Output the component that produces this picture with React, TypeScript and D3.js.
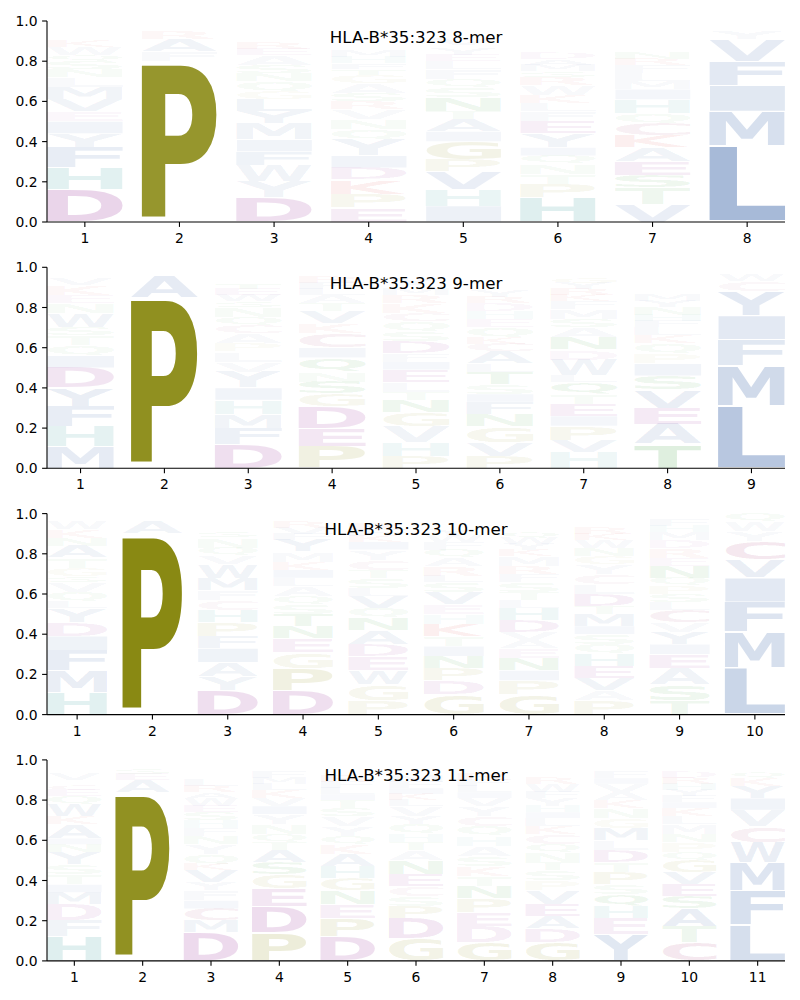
import React, { useMemo } from "react";
import * as d3 from "d3";

type Col = [string, number][];

const titles = [
  "HLA-B*35:323 8-mer",
  "HLA-B*35:323 9-mer",
  "HLA-B*35:323 10-mer",
  "HLA-B*35:323 11-mer",
];

const mer8: Col[] = [
  [["D",.16],["H",.11],["F",.10],["Y",.07],["I",.06],["E",.05],["V",.06],["M",.06],["L",.05],["N",.04],["S",.04],["Q",.03],["W",.04],["K",.03],["R",.02],["A",.02],["C",.02]],
  [["P",.80],["F",.05],["A",.06],["R",.04],["S",.02],["K",.01]],
  [["D",.12],["Y",.08],["W",.08],["F",.07],["I",.06],["M",.08],["Y",.06],["L",.06],["G",.04],["Q",.05],["N",.04],["S",.04],["A",.05],["E",.03],["R",.03],["K",.02],["T",.02]],
  [["E",.07],["P",.07],["K",.07],["D",.06],["I",.06],["Y",.08],["Q",.05],["N",.05],["V",.05],["R",.04],["S",.04],["A",.05],["G",.04],["T",.03],["F",.03],["H",.03],["M",.03],["W",.02]],
  [["I",.08],["H",.08],["V",.09],["P",.06],["G",.09],["I",.05],["A",.06],["T",.04],["N",.07],["S",.05],["Q",.04],["F",.05],["L",.04],["E",.03],["Y",.03],["K",.02],["V",.03]],
  [["H",.12],["P",.07],["T",.05],["N",.05],["Q",.04],["I",.04],["Y",.07],["E",.06],["F",.05],["L",.04],["K",.04],["W",.05],["R",.04],["S",.03],["M",.03],["A",.03],["D",.03],["C",.02]],
  [["V",.09],["T",.08],["S",.06],["E",.07],["A",.07],["K",.06],["C",.06],["Q",.05],["H",.07],["I",.05],["M",.04],["L",.04],["F",.04],["R",.03],["N",.03],["Y",.02],["W",.02]],
  [["L",.38],["M",.17],["I",.13],["F",.12],["V",.11],["Y",.04],["W",.02],["C",.02]],
];

const mer9: Col[] = [
  [["M",.11],["H",.10],["F",.10],["Y",.09],["D",.10],["I",.06],["Q",.05],["T",.05],["S",.04],["W",.07],["N",.05],["E",.04],["K",.05],["V",.03],["A",.02],["L",.02],["R",.02]],
  [["P",.85],["A",.11],["S",.02],["T",.01],["L",.01]],
  [["D",.12],["F",.08],["M",.07],["H",.07],["I",.06],["Y",.08],["V",.05],["L",.05],["P",.04],["A",.05],["C",.04],["Q",.04],["N",.05],["S",.03],["W",.03],["E",.03],["T",.03],["K",.02],["R",.02]],
  [["P",.11],["E",.09],["D",.11],["G",.06],["S",.06],["N",.05],["Q",.07],["I",.05],["C",.07],["K",.05],["V",.06],["T",.04],["A",.04],["L",.03],["F",.03],["R",.03],["M",.02],["W",.02]],
  [["P",.06],["H",.07],["V",.08],["G",.07],["N",.06],["T",.04],["L",.05],["E",.06],["I",.04],["F",.04],["D",.06],["S",.05],["Q",.05],["C",.04],["K",.05],["R",.04],["M",.03],["W",.02],["Y",.03]],
  [["P",.06],["V",.07],["G",.08],["N",.06],["F",.06],["I",.04],["S",.05],["T",.06],["L",.04],["A",.06],["C",.04],["K",.03],["Q",.05],["E",.04],["H",.04],["D",.04],["R",.03],["Y",.03],["M",.02]],
  [["H",.08],["V",.06],["P",.07],["I",.05],["E",.06],["T",.05],["Q",.06],["L",.03],["W",.08],["D",.05],["N",.06],["A",.05],["S",.04],["M",.05],["F",.04],["K",.03],["R",.03],["Y",.03],["G",.03]],
  [["T",.12],["A",.10],["E",.08],["V",.09],["S",.07],["I",.06],["P",.05],["Q",.05],["K",.04],["L",.04],["F",.03],["H",.03],["N",.04],["Y",.03],["M",.03],["R",.02],["G",.02],["C",.02]],
  [["L",.31],["M",.20],["F",.13],["I",.12],["Y",.12],["C",.05],["W",.03],["V",.02]],
];

const mer10: Col[] = [
  [["H",.11],["M",.11],["F",.10],["I",.07],["D",.07],["Y",.07],["L",.03],["Q",.05],["V",.05],["S",.03],["G",.04],["T",.05],["A",.06],["N",.04],["K",.04],["W",.04],["E",.02],["R",.02]],
  [["P",.90],["A",.06],["S",.02],["T",.02]],
  [["D",.12],["Y",.07],["A",.07],["I",.07],["F",.06],["P",.07],["H",.06],["C",.05],["F",.05],["M",.06],["W",.07],["V",.04],["Q",.04],["N",.05],["S",.03],["K",.02],["L",.02],["E",.02]],
  [["D",.12],["P",.11],["G",.08],["E",.07],["N",.06],["T",.06],["S",.05],["Q",.04],["A",.05],["L",.04],["I",.04],["K",.04],["M",.05],["Y",.06],["F",.03],["V",.03],["R",.03],["W",.02],["H",.02]],
  [["P",.07],["G",.08],["W",.07],["E",.07],["D",.06],["A",.07],["N",.06],["Q",.05],["V",.06],["L",.04],["S",.05],["T",.04],["C",.05],["Y",.05],["I",.04],["K",.03],["F",.03],["R",.03],["H",.02],["M",.02]],
  [["G",.10],["D",.07],["P",.06],["N",.06],["I",.05],["T",.05],["K",.06],["H",.05],["E",.05],["V",.06],["S",.05],["L",.03],["R",.05],["A",.04],["Q",.04],["F",.04],["W",.03],["Y",.03],["C",.02],["M",.02]],
  [["G",.10],["P",.07],["I",.05],["N",.06],["E",.05],["A",.04],["V",.04],["D",.06],["H",.06],["L",.04],["T",.04],["S",.05],["F",.04],["R",.04],["M",.05],["K",.03],["Y",.03],["W",.03],["Q",.03]],
  [["P",.07],["A",.05],["V",.06],["E",.06],["H",.06],["Q",.05],["S",.05],["I",.04],["M",.06],["T",.04],["D",.06],["L",.05],["C",.05],["Y",.05],["G",.04],["N",.04],["W",.04],["K",.03],["R",.03],["F",.02]],
  [["T",.07],["S",.08],["A",.08],["E",.07],["I",.05],["Y",.06],["V",.05],["C",.06],["L",.04],["S",.04],["P",.04],["Q",.04],["N",.06],["E",.04],["R",.05],["D",.04],["M",.04],["H",.03],["F",.03],["W",.02]],
  [["L",.23],["M",.18],["F",.15],["I",.12],["V",.09],["C",.09],["Y",.05],["W",.05],["Q",.04]],
];

const mer11: Col[] = [
  [["H",.12],["F",.08],["D",.08],["M",.06],["I",.04],["T",.05],["S",.05],["Y",.06],["N",.04],["I",.03],["A",.07],["K",.04],["W",.06],["Q",.04],["E",.03],["C",.03],["R",.02],["V",.03],["L",.02],["G",.02]],
  [["P",.84],["A",.06],["E",.03],["S",.03],["T",.02],["K",.02]],
  [["D",.14],["M",.06],["C",.06],["I",.04],["F",.05],["Y",.04],["V",.06],["K",.03],["Q",.05],["Y",.05],["N",.04],["F",.04],["H",.04],["S",.04],["E",.03],["W",.04],["A",.03],["R",.03],["L",.03],["T",.02]],
  [["P",.14],["D",.13],["E",.09],["G",.07],["S",.06],["A",.06],["T",.04],["Q",.04],["N",.05],["Y",.05],["I",.04],["V",.04],["K",.04],["L",.03],["M",.03],["F",.03],["R",.02],["W",.02],["H",.02]],
  [["D",.12],["P",.09],["E",.07],["N",.07],["G",.06],["H",.06],["A",.06],["K",.05],["Q",.04],["Y",.05],["V",.05],["S",.04],["T",.04],["I",.03],["L",.03],["F",.03],["R",.03],["M",.02],["C",.02],["W",.02]],
  [["G",.11],["D",.10],["P",.06],["S",.05],["C",.05],["E",.06],["N",.07],["A",.05],["T",.04],["H",.04],["Q",.05],["Y",.04],["V",.05],["L",.03],["K",.03],["I",.03],["F",.03],["M",.03],["R",.02],["W",.02]],
  [["G",.09],["D",.08],["E",.07],["P",.07],["N",.06],["T",.05],["K",.05],["S",.05],["A",.05],["H",.05],["Q",.05],["C",.05],["Y",.05],["V",.04],["I",.03],["L",.03],["F",.03],["R",.03],["M",.02]],
  [["G",.09],["D",.07],["A",.06],["E",.06],["V",.07],["P",.05],["S",.05],["T",.04],["N",.05],["Q",.04],["C",.05],["K",.04],["L",.04],["I",.03],["H",.03],["Y",.04],["F",.03],["W",.04],["R",.03],["M",.02]],
  [["Y",.13],["E",.08],["H",.06],["Q",.06],["S",.05],["P",.06],["T",.05],["D",.06],["L",.05],["M",.06],["G",.05],["N",.05],["K",.04],["A",.04],["V",.04],["I",.03],["F",.03],["R",.02],["W",.02],["C",.02]],
  [["C",.09],["T",.08],["A",.09],["S",.06],["E",.06],["V",.06],["G",.06],["Q",.04],["P",.05],["N",.04],["M",.05],["L",.04],["K",.04],["I",.03],["F",.03],["Y",.03],["H",.03],["R",.03],["D",.03],["W",.02]],
  [["L",.18],["F",.17],["M",.14],["W",.10],["C",.08],["V",.08],["I",.06],["Y",.06],["K",.04],["Q",.03],["S",.02],["T",.02],["A",.02]],
];

const panelsData: Col[][] = [mer8, mer9, mer10, mer11];

const BLUE = "#1f4f9c";
const colorOf: Record<string, string> = {
  A: BLUE, V: BLUE, I: BLUE, L: BLUE, M: BLUE, F: BLUE, W: BLUE, Y: BLUE,
  D: "#800080", E: "#800080", C: "#99115e",
  K: "#d00000", R: "#d00000",
  H: "#008080",
  N: "#008000", Q: "#008000", S: "#008000", T: "#008000",
  P: "#808000", G: "#808000",
};

const FONT = "DejaVu Sans";

type Met = { l: number; r: number; a: number; d: number };

function measureLetters(): Record<string, Met> {
  const c = document.createElement("canvas");
  const ctx = c.getContext("2d") as CanvasRenderingContext2D;
  ctx.font = `bold 100px "${FONT}"`;
  const m: Record<string, Met> = {};
  for (const ch of "ACDEFGHIKLMNPQRSTVWY") {
    const t = ctx.measureText(ch);
    m[ch] = {
      l: t.actualBoundingBoxLeft,
      r: t.actualBoundingBoxRight,
      a: t.actualBoundingBoxAscent,
      d: t.actualBoundingBoxDescent,
    };
  }
  return m;
}

const LEFT = 47;
const RIGHT = 785;
const TOP0 = 21;
const STEP = 246.3;
const H = 201;

function Panel({ idx, cols, met }: { idx: number; cols: Col[]; met: Record<string, Met> }) {
  const top = TOP0 + idx * STEP;
  const bottom = top + H;
  const n = cols.length;
  const x = d3.scaleLinear().domain([0.6, n + 0.4]).range([LEFT, RIGHT]);
  const y = d3.scaleLinear().domain([0, 1]).range([bottom, top]);
  const yTicks = d3.range(0, 1.0001, 0.2);
  const fmt = d3.format(".1f");
  const letters: JSX.Element[] = [];
  cols.forEach((col, i) => {
    const pos = i + 1;
    let acc = 0;
    col.forEach(([ch, h], j) => {
      const g0 = acc + 0.025 * h;
      const g1 = acc + h - 0.025 * h;
      acc += h;
      const mm = met[ch];
      const x0 = x(pos - 0.4);
      const x1 = x(pos + 0.4);
      const yb = y(g0);
      const yt = y(g1);
      const gw = mm.l + mm.r;
      const gh = mm.a + mm.d;
      if (gw <= 0 || gh <= 0) return;
      const sx = (x1 - x0) / gw;
      const sy = (yb - yt) / gh;
      const alpha = Math.min(1, h * 1.03);
      letters.push(
        <text
          key={`${i}-${j}`}
          transform={`translate(${x0 + mm.l * sx},${yb - mm.d * sy}) scale(${sx},${sy})`}
          fontFamily={FONT}
          fontWeight="bold"
          fontSize={100}
          fill={colorOf[ch]}
          fillOpacity={alpha}
        >
          {ch}
        </text>
      );
    });
  });
  return (
    <g>
      {letters}
      <line x1={LEFT} x2={LEFT} y1={top} y2={bottom} stroke="black" strokeWidth={1.1} />
      <line x1={LEFT} x2={RIGHT} y1={bottom} y2={bottom} stroke="black" strokeWidth={1.1} />
      {yTicks.map((t) => (
        <g key={t}>
          <line x1={LEFT - 4.9} x2={LEFT} y1={y(t)} y2={y(t)} stroke="black" strokeWidth={1.1} />
          <text x={LEFT - 9.5} y={y(t)} dy="0.36em" textAnchor="end" fontFamily={FONT} fontSize={13.9}>
            {fmt(t)}
          </text>
        </g>
      ))}
      {d3.range(1, n + 1).map((p) => (
        <g key={p}>
          <line x1={x(p)} x2={x(p)} y1={bottom} y2={bottom + 4.9} stroke="black" strokeWidth={1.1} />
          <text x={x(p)} y={bottom + 21} textAnchor="middle" fontFamily={FONT} fontSize={13.9}>
            {p}
          </text>
        </g>
      ))}
      <text x={(LEFT + RIGHT) / 2} y={top + 21.5} textAnchor="middle" fontFamily={FONT} fontSize={16.7}>
        {titles[idx]}
      </text>
    </g>
  );
}

export default function App() {
  const met = useMemo(() => measureLetters(), []);
  return (
    <svg
      width={800}
      height={1000}
      style={{ position: "absolute", left: 0, top: 0, background: "white" }}
    >
      <rect width={800} height={1000} fill="white" />
      {panelsData.map((cols, i) => (
        <Panel key={i} idx={i} cols={cols} met={met} />
      ))}
    </svg>
  );
}
